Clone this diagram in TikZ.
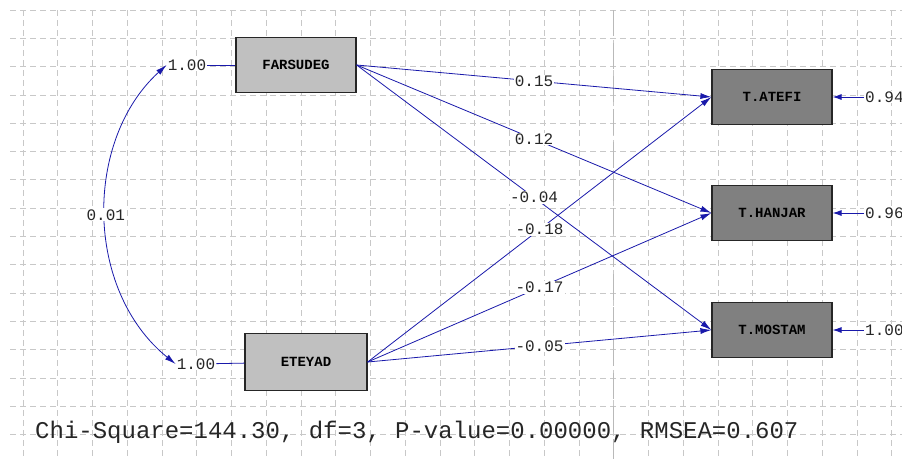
\documentclass[tikz,border=0pt]{standalone}
\usepackage{fontspec}
\newfontfamily\lisrelfont{Liberation Mono}
\usepackage{tikz}
\usetikzlibrary{arrows.meta}
\definecolor{pathblue}{RGB}{25,25,170}
\definecolor{gridgray}{RGB}{200,200,200}
\definecolor{exogray}{RGB}{192,192,192}
\definecolor{endogray}{RGB}{128,128,128}

\begin{document}
\begin{tikzpicture}[x=1pt,y=-1pt,
	gridline/.style={gridgray,line width=0.8pt,dash pattern=on 6pt off 4pt},
	exo/.style={draw=black!85,line width=1.2pt,fill=exogray,minimum width=120pt,minimum height=55pt,font=\lisrelfont\bfseries\fontsize{14}{16}\selectfont},
	endo/.style={exo,fill=endogray},
	coef/.style={fill=white,inner sep=1pt,text=black!85,font=\lisrelfont\fontsize{16}{18}\selectfont},
	effect/.style={draw=pathblue,line width=0.8pt,-{Latex[length=11pt,width=6pt]}},
	errarrow/.style={draw=pathblue,line width=0.8pt,-{Latex[length=9pt,width=6pt]}}]
	\clip (0,0) rectangle (902,459);
	% grid
	\foreach \k in {0,...,15}
		\draw[gridline] (10,{10+28.3*\k}) -- (902,{10+28.3*\k});
	\foreach \k in {0,...,25}
		\draw[gridline] ({23+34.75*\k},10) -- ({23+34.75*\k},459);
	\draw[gray!55,line width=1pt,dash pattern=on 26pt off 7pt] (613,10) -- (613,459);
	% variables
	\node[exo] (farsudeg) at (296,65) {FARSUDEG};
	\node[exo,minimum width=122pt,minimum height=57pt] (eteyad) at (306,362) {ETEYAD};
	\node[endo] (atefi) at (772,97) {T.ATEFI};
	\node[endo] (hanjar) at (772,213) {T.HANJAR};
	\node[endo] (mostam) at (772,330) {T.MOSTAM};
	% variances and covariance
	\node[coef] (var1) at (187,65) {1.00};
	\node[coef] (var2) at (196,364) {1.00};
	\draw[pathblue,line width=0.8pt] (var1) -- (farsudeg);
	\draw[pathblue,line width=0.8pt] (var2) -- (eteyad);
	\draw[pathblue,line width=0.8pt,{Latex[length=11pt,width=6pt]}-{Latex[length=11pt,width=6pt]}]
		(var1.west) .. controls (84,140) and (84,290) .. node[coef]{0.01} (var2.west);
	% effects
	\draw[effect] (farsudeg.east) -- (atefi.west);
	\draw[effect] (farsudeg.east) -- (hanjar.west);
	\draw[effect] (farsudeg.east) -- (mostam.west);
	\draw[effect] (eteyad.east) -- (atefi.west);
	\draw[effect] (eteyad.east) -- (hanjar.west);
	\draw[effect] (eteyad.east) -- (mostam.west);
	\path (farsudeg.east) -- node[coef]{0.15} (atefi.west);
	\path (farsudeg.east) -- node[coef]{0.12} (hanjar.west);
	\path (farsudeg.east) -- node[coef]{-0.04} (mostam.west);
	\path (eteyad.east) -- node[coef]{-0.18} (atefi.west);
	\path (eteyad.east) -- node[coef]{-0.17} (hanjar.west);
	\path (eteyad.east) -- node[coef]{-0.05} (mostam.west);
	% error terms
	\node[coef,anchor=west] (err1) at (864,97) {0.94};
	\node[coef,anchor=west] (err2) at (864,213) {0.96};
	\node[coef,anchor=west] (err3) at (864,330) {1.00};
	\draw[errarrow] (err1) -- (atefi);
	\draw[errarrow] (err2) -- (hanjar);
	\draw[errarrow] (err3) -- (mostam);
	% fit
	\node[anchor=west,inner sep=0pt,text=black!85,font=\lisrelfont\fontsize{24}{28}\selectfont] (fit) at (35,432)
		{Chi-Square=144.30, df=3, P-value=0.00000, RMSEA=0.607};
\end{tikzpicture}
\end{document}
